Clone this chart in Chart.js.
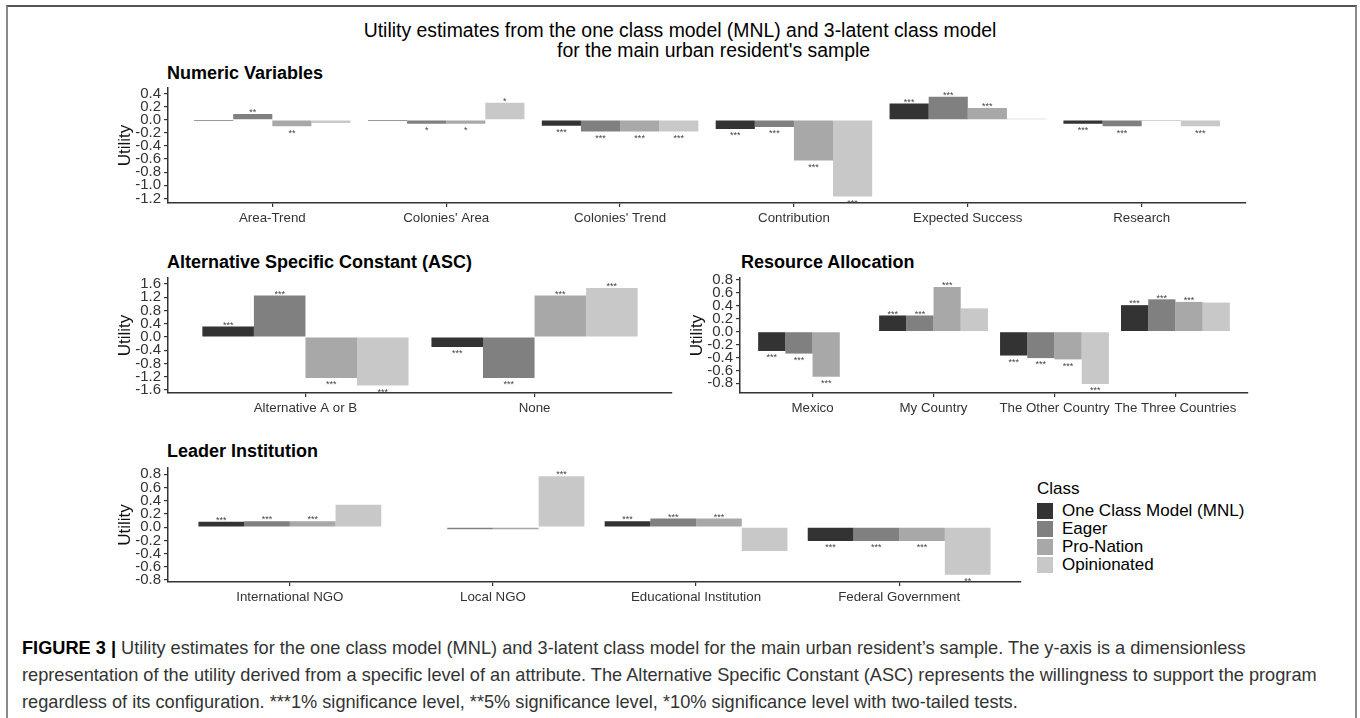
<!DOCTYPE html>
<html lang="en">
<head>
<meta charset="utf-8">
<title>Utility estimates - MNL and 3-latent class model</title>
<script src="https://cdn.jsdelivr.net/npm/chart.js@4.4.1/dist/chart.umd.min.js"></script>
<style>
  html, body { margin: 0; padding: 0; background: #fff; }
  body { position: relative; width: 1360px; height: 718px; overflow: hidden;
         font-family: 'Liberation Sans', Arial, sans-serif; color: #000; }
  .frame { position: absolute; left: 6px; top: 5px; width: 1351px; height: 760px;
           box-sizing: border-box; border: 2px solid #8a8a8a; border-top-color: #555; }
  .main-title { position: absolute; font-size: 19.4px; line-height: 20px; white-space: nowrap; }
  .panel-title { position: absolute; font-size: 18px; font-weight: bold; line-height: 20px; white-space: nowrap; }
  canvas { position: absolute; }
  #legend { position: absolute; left: 1037px; top: 480px; font-size: 17px; line-height: 18px; }
  #legend .legend-title { margin-bottom: 4px; }
  .legend-row { display: flex; align-items: center; height: 18px; }
  .swatch { width: 16px; height: 16px; margin-right: 9px; }
  .caption { position: absolute; left: 22px; top: 635px; font-size: 18.2px; line-height: 27px;
             color: #333; white-space: nowrap; }
  .caption b { color: #000; }
</style>
</head>
<body>
<div class="frame"></div>

<div class="main-title" style="left:0; width:1360px; text-align:center; top:20px;">Utility estimates from the one class model (MNL) and 3-latent class model</div>
<div class="main-title" style="left:557px; top:40px;">for the main urban resident's sample</div>

<div class="panel-title" style="left:167px; top:63px;">Numeric Variables</div>
<div class="panel-title" style="left:167px; top:252px;">Alternative Specific Constant (ASC)</div>
<div class="panel-title" style="left:741px; top:252px;">Resource Allocation</div>
<div class="panel-title" style="left:167px; top:441px;">Leader Institution</div>

<canvas id="numericChart"  width="1150" height="175" style="left:100px; top:68px;"></canvas>
<canvas id="ascChart"      width="576"  height="175" style="left:100px; top:258px;"></canvas>
<canvas id="resourceChart" width="572"  height="175" style="left:680px; top:258px;"></canvas>
<canvas id="leaderChart"   width="925"  height="174" style="left:100px; top:448px;"></canvas>

<div id="legend"></div>

<div class="caption"><b>FIGURE 3 |</b> Utility estimates for the one class model (MNL) and 3-latent class model for the main urban resident’s sample. The y-axis is a dimensionless<br>representation of the utility derived from a specific level of an attribute. The Alternative Specific Constant (ASC) represents the willingness to support the program<br>regardless of its configuration. ***1% significance level, **5% significance level, *10% significance level with two-tailed tests.</div>

<script>
/* =============================================================================
   DATA
   ============================================================================= */

const seriesNames  = ['One Class Model (MNL)', 'Eager', 'Pro-Nation', 'Opinionated'];
const seriesColors = ['#333333', '#808080', '#a8a8a8', '#c8c8c8'];

/* Numeric Variables */
const numericCats  = ['Area-Trend', "Colonies' Area", "Colonies' Trend", 'Contribution', 'Expected Success', 'Research'];
const numericMNL   = [-0.017, -0.02, -0.09, -0.14, 0.25, -0.06];
const numericEager = [ 0.09, -0.06, -0.18, -0.11, 0.35, -0.10];
const numericPro   = [-0.10, -0.06, -0.18, -0.62, 0.18, -0.017];
const numericOpin  = [-0.05,  0.26, -0.18, -1.17, 0.017, -0.10];
const numericStars = [
  ['',   '',  '***', '***', '***', '***'],
  ['**', '*', '***', '***', '***', '***'],
  ['**', '*', '***', '***', '***', ''],
  ['',   '*', '***', '***', '',    '***']
];
const numericTicks = [0.4, 0.2, 0, -0.2, -0.4, -0.6, -0.8, -1.0, -1.2];

/* Alternative Specific Constant */
const ascCats  = ['Alternative A or B', 'None'];
const ascMNL   = [ 0.32, -0.30];
const ascEager = [ 1.25, -1.24];
const ascPro   = [-1.24,  1.25];
const ascOpin  = [-1.46,  1.48];
const ascStars = [
  ['***', '***'], ['***', '***'], ['***', '***'], ['***', '***']
];
const ascTicks = [1.6, 1.2, 0.8, 0.4, 0, -0.4, -0.8, -1.2, -1.6];

/* Resource Allocation */
const resourceCats  = ['Mexico', 'My Country', 'The Other Country', 'The Three Countries'];
const resourceMNL   = [-0.30, 0.25, -0.37, 0.41];
const resourceEager = [-0.34, 0.25, -0.41, 0.50];
const resourcePro   = [-0.70, 0.69, -0.43, 0.46];
const resourceOpin  = [ null, 0.36, -0.81, 0.45];
const resourceStars = [
  ['***', '***', '***', '***'],
  ['***', '***', '***', '***'],
  ['***', '***', '***', '***'],
  ['',    '',    '***', '']
];
const resourceTicks = [0.8, 0.6, 0.4, 0.2, 0, -0.2, -0.4, -0.6, -0.8];

/* Leader Institution */
const leaderCats  = ['International NGO', 'Local NGO', 'Educational Institution', 'Federal Government'];
const leaderMNL   = [0.08,  null,  0.09, -0.21];
const leaderEager = [0.09, -0.03,  0.13, -0.21];
const leaderPro   = [0.09, -0.03,  0.13, -0.21];
const leaderOpin  = [0.34,  0.77, -0.36, -0.72];
const leaderStars = [
  ['***', '',    '***', '***'],
  ['***', '',    '***', '***'],
  ['***', '',    '***', '***'],
  ['',    '***', '',    '**']
];
const leaderTicks = [0.8, 0.6, 0.4, 0.2, 0, -0.2, -0.4, -0.6, -0.8];

/* =============================================================================
   DEFAULTS + SIGNIFICANCE STARS
   ============================================================================= */

const FONT = "'Liberation Sans', Arial, sans-serif";
const AXIS = '#333333';
const TEXT = '#333333';

Chart.defaults.font.family = FONT;
Chart.defaults.color = TEXT;

/* draws the *** above positive bars and below negative ones */
const starPlugin = {
  id: 'stars',
  afterDatasetsDraw(chart) {
    const ctx = chart.ctx;
    ctx.save();
    ctx.font = '9px ' + FONT;
    ctx.fillStyle = '#444';
    ctx.textAlign = 'center';
    ctx.textBaseline = 'alphabetic';
    chart.data.datasets.forEach((ds, di) => {
      chart.getDatasetMeta(di).data.forEach((bar, i) => {
        const s = ds.stars[i];
        const v = ds.data[i].y;
        if (!s || v === null) return;
        const cy = v >= 0 ? bar.y - 4 : bar.y + 4;
        ctx.fillText(s, bar.x, cy + 5.2);   // asterisks sit high in the em box
      });
    });
    ctx.restore();
  }
};

/* =============================================================================
   PANELS
   ============================================================================= */

function makePanel(canvasId, cats, series, stars, yMin, yMax, yTicks, yAxisWidth, titleOffset) {
  const datasets = seriesNames.map((name, s) => ({
    label: name,
    data: cats.map((_, i) => ({ x: i, y: series[s][i] })),
    stars: stars[s],
    backgroundColor: seriesColors[s],
    borderWidth: 0,
    categoryPercentage: 0.9,
    barPercentage: 1.0
  }));

  return new Chart(document.getElementById(canvasId), {
    type: 'bar',
    data: { datasets },
    plugins: [starPlugin],
    options: {
      responsive: false,
      animation: false,
      layout: { padding: { top: 20, right: 4, bottom: 0, left: 0 } },
      plugins: { legend: { display: false }, tooltip: { enabled: false } },
      scales: {
        x: {
          type: 'linear',
          bounds: 'data',
          min: -0.6,
          max: cats.length - 0.4,
          offset: false,
          afterBuildTicks: sc => { sc.ticks = cats.map((_, i) => ({ value: i })); },
          afterFit: sc => { sc.height = 40; },
          grid:   { display: true, offset: false, drawOnChartArea: false, drawTicks: true,
                    tickLength: 4, color: AXIS, lineWidth: 1.2 },
          border: { display: true, color: AXIS, width: 1.5 },
          ticks:  { autoSkip: false, maxRotation: 0, padding: 3, color: TEXT,
                    font: { size: 13.3 }, callback: v => cats[v] }
        },
        y: {
          bounds: 'data',
          min: yMin,
          max: yMax,
          afterBuildTicks: sc => { sc.ticks = yTicks.map(v => ({ value: v })); },
          afterFit: sc => { sc.width = yAxisWidth; },
          grid:   { display: true, drawOnChartArea: false, drawTicks: true,
                    tickLength: 4, color: AXIS, lineWidth: 1.2 },
          border: { display: true, color: AXIS, width: 1.5 },
          ticks:  { autoSkip: false, padding: 3, color: TEXT, font: { size: 15 },
                    callback: v => Number(v).toFixed(1) },
          title:  { display: true, text: 'Utility', color: '#111', font: { size: 17 },
                    padding: { top: titleOffset, bottom: 0 } }
        }
      }
    }
  });
}

makePanel('numericChart', numericCats,
  [numericMNL, numericEager, numericPro, numericOpin], numericStars,
  -1.27, 0.485, numericTicks, 68, 14.8);

makePanel('ascChart', ascCats,
  [ascMNL, ascEager, ascPro, ascOpin], ascStars,
  -1.69, 1.78, ascTicks, 68, 14.8);

makePanel('resourceChart', resourceCats,
  [resourceMNL, resourceEager, resourcePro, resourceOpin], resourceStars,
  -0.95, 0.83, resourceTicks, 60, 6.8);

makePanel('leaderChart', leaderCats,
  [leaderMNL, leaderEager, leaderPro, leaderOpin], leaderStars,
  -0.83, 0.895, leaderTicks, 68, 14.8);

/* =============================================================================
   LEGEND
   ============================================================================= */

const legend = document.getElementById('legend');
const legendTitle = document.createElement('div');
legendTitle.className = 'legend-title';
legendTitle.textContent = 'Class';
legend.appendChild(legendTitle);
seriesNames.forEach((name, i) => {
  const row = document.createElement('div');
  row.className = 'legend-row';
  const sw = document.createElement('span');
  sw.className = 'swatch';
  sw.style.background = seriesColors[i];
  const label = document.createElement('span');
  label.textContent = name;
  row.appendChild(sw);
  row.appendChild(label);
  legend.appendChild(row);
});
</script>
</body>
</html>
